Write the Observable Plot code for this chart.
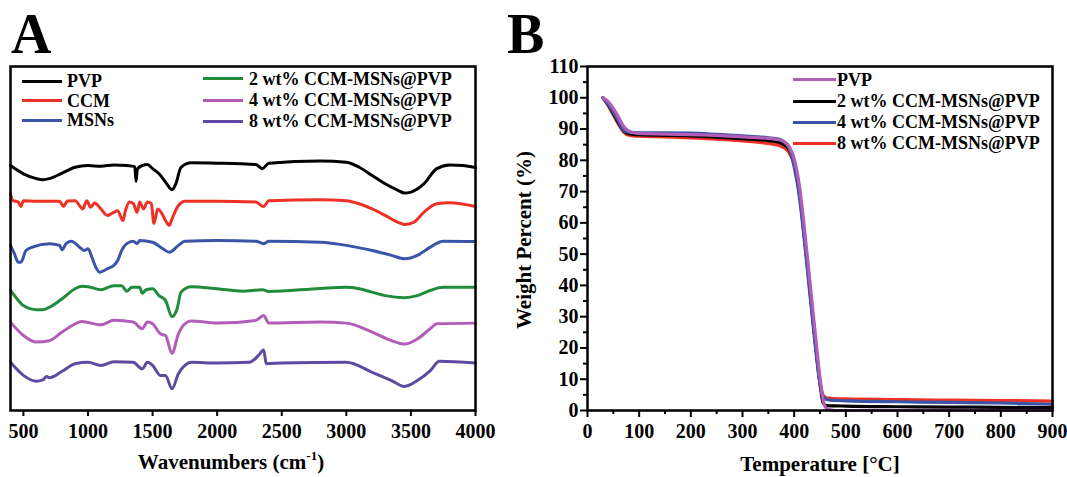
<!DOCTYPE html>
<html><head><meta charset="utf-8">
<script src="https://cdn.jsdelivr.net/npm/d3@7"></script>
<script src="https://cdn.jsdelivr.net/npm/@observablehq/plot@0.6"></script>
<style>
body{margin:0;background:#fff;}
#fig{position:relative;width:1067px;height:477px;font-family:"Liberation Serif","Times New Roman",serif;font-weight:bold;color:#000;overflow:hidden;background:#fff}
.t{position:absolute;white-space:nowrap;}
.sw{position:absolute;height:3px;}
.pl{position:absolute;top:0;}
sup{font-size:13px;line-height:0;vertical-align:9px;}
</style></head><body><div id="fig"></div>
<script>
// ---------------- DATA: FTIR (panel A) ----------------
const ftirNames = ["PVP","CCM","MSNs","2 wt% CCM-MSNs@PVP","4 wt% CCM-MSNs@PVP","8 wt% CCM-MSNs@PVP"];
const ftirXTicks = [500,1000,1500,2000,2500,3000,3500,4000];
// [wavenumber (cm-1), transmittance (a.u., offset)]
const ftirPVP = [[400,71.2],[500,68.8],[600,67.4],[650,67.1],[700,67.4],[800,69.0],[900,70.7],[1000,71.2],[1100,71.0],[1200,71.4],[1300,71.2],[1362,70.9],[1372,66.6],[1382,70.2],[1420,71.2],[1460,71.5],[1500,70.3],[1550,68.8],[1600,66.4],[1650,64.2],[1680,65.9],[1720,70.7],[1800,72.0],[2000,71.9],[2300,71.5],[2350,70.3],[2400,71.9],[2800,72.5],[3000,72.2],[3100,70.7],[3200,68.3],[3300,65.9],[3400,64.0],[3450,63.2],[3500,63.5],[3600,65.9],[3700,70.3],[3800,71.4],[3900,71.2],[4000,70.6]];
const ftirCCM = [[400,63.0],[420,61.0],[460,60.6],[480,59.3],[500,61.0],[600,60.8],[700,60.8],[780,60.8],[810,59.3],[840,60.9],[900,61.0],[960,58.6],[990,61.0],[1020,59.1],[1050,60.3],[1100,58.6],[1150,56.7],[1180,57.2],[1200,57.6],[1230,58.1],[1270,55.2],[1290,58.1],[1320,60.6],[1350,60.2],[1380,57.6],[1400,60.6],[1430,58.6],[1460,60.6],[1490,60.2],[1510,54.4],[1540,58.6],[1580,56.7],[1600,55.2],[1630,53.8],[1650,55.7],[1700,59.6],[1750,60.8],[2000,60.8],[2300,60.6],[2360,59.3],[2400,61.0],[2800,61.3],[3000,61.0],[3100,60.1],[3200,58.6],[3300,56.7],[3400,54.7],[3450,54.1],[3520,54.7],[3600,57.6],[3700,60.1],[3800,60.4],[4000,59.3]];
const ftirMSNs = [[400,48.0],[430,45.6],[460,43.1],[480,43.1],[520,46.5],[570,47.5],[700,48.5],[780,48.0],[800,46.7],[830,48.5],[870,49.2],[950,47.0],[970,46.5],[1000,47.0],[1030,44.6],[1060,41.7],[1090,40.2],[1150,41.2],[1200,42.2],[1230,43.6],[1260,46.5],[1300,48.5],[1350,49.2],[1380,48.5],[1400,49.4],[1500,48.9],[1580,47.0],[1630,46.0],[1700,48.0],[1750,49.2],[2000,49.4],[2300,49.2],[2360,48.5],[2400,49.2],[2800,48.9],[3000,48.0],[3200,46.5],[3350,45.1],[3450,44.1],[3550,45.1],[3650,47.5],[3750,49.2],[4000,49.1]];
const ftir2wt = [[400,34.9],[450,32.5],[500,30.5],[600,29.3],[650,29.3],[700,30.0],[800,32.5],[900,35.4],[950,36.1],[1000,36.0],[1100,35.1],[1200,36.3],[1260,36.3],[1300,34.7],[1340,35.8],[1400,35.8],[1420,34.1],[1450,35.1],[1500,35.4],[1550,33.4],[1600,32.0],[1650,27.3],[1690,29.6],[1720,34.4],[1800,36.0],[2000,35.4],[2200,34.7],[2350,35.1],[2400,34.6],[2800,35.5],[3000,35.8],[3100,35.4],[3200,34.4],[3300,33.4],[3450,32.8],[3550,33.4],[3650,34.9],[3750,35.8],[4000,35.8]];
const ftir4wt = [[400,25.7],[500,21.8],[600,19.9],[700,20.3],[800,22.8],[900,25.2],[950,25.9],[1100,24.9],[1200,26.2],[1350,25.7],[1420,23.8],[1460,25.7],[1500,25.2],[1560,22.3],[1600,21.8],[1650,16.6],[1700,22.3],[1750,25.2],[1800,26.0],[2000,25.4],[2300,26.2],[2360,27.6],[2400,25.4],[2800,25.7],[3000,25.4],[3200,22.8],[3350,20.3],[3450,19.3],[3550,20.8],[3650,23.8],[3700,25.2],[4000,25.4]];
const ftir8wt = [[400,14.0],[500,10.2],[600,8.5],[650,8.9],[680,9.9],[700,9.5],[800,11.4],[900,13.6],[1000,14.0],[1100,13.1],[1200,14.2],[1350,14.0],[1420,12.1],[1460,14.0],[1500,13.1],[1560,10.2],[1600,10.2],[1650,6.3],[1700,10.7],[1750,13.1],[1800,14.0],[2000,13.8],[2250,14.0],[2320,16.0],[2360,17.6],[2380,13.6],[2500,13.8],[3000,14.0],[3200,11.1],[3350,8.7],[3450,7.0],[3550,8.7],[3650,11.6],[3720,14.3],[4000,13.8]];

// ---------------- DATA: TGA (panel B) ----------------
const tgaNames = ["PVP","2 wt% CCM-MSNs@PVP","4 wt% CCM-MSNs@PVP","8 wt% CCM-MSNs@PVP"];
const tgaXTicks = [0,100,200,300,400,500,600,700,800,900];
const tgaXMinor = [50,150,250,350,450,550,650,750,850];
const tgaYTicks = [0,10,20,30,40,50,60,70,80,90,100,110];
const tgaYMinor = [5,15,25,35,45,55,65,75,85,95,105];
const tgaTemp = [30,40,50,60,70,80,90,100,150,200,250,300,350,370,380,390,400,410,420,430,440,450,456,462,470,480,500,600,700,800,900];
const tgaPVP  = [100,98.8,96.6,93.8,90.8,89.3,88.8,88.6,88.4,88.2,88.0,87.5,87.0,86.6,86.0,84.5,80.5,72,58,42,26,10.5,3.5,0.8,0.2,0,0,0,0,0,0];
const tga2wt  = [100,97.8,95.0,92.0,89.5,88.5,88.3,88.2,88.0,87.8,87.4,86.9,86.3,85.8,85.0,83.5,79,70,55.5,39.5,23.5,8.5,2.5,1.6,1.5,1.5,1.4,1.2,1.1,1.0,0.9];
const tga4wt  = [100,97.8,95.4,92.5,89.6,89.0,88.9,88.8,88.8,88.7,88.3,87.8,87.2,86.8,86.0,84.0,78,68.5,54,38,22,8.5,4.5,3.6,3.3,3.2,3.1,2.8,2.6,2.4,2.0];
const tga8wt  = [100,97.5,94.5,91.5,89.0,88.0,87.8,87.7,87.5,87.2,86.8,86.2,85.4,84.8,84.0,82.5,78.5,69.5,55,39,23,9,4.9,4.1,3.9,3.8,3.7,3.5,3.3,3.2,3.0];

// ---------------- styles ----------------
const ftirColors = ["#000000","#ee3124","#3a55a8","#1f8c3b","#b25db7","#5e4aa0"];
const tgaColors  = ["#b25db7","#000000","#3a55a8","#ee3124"];
const FONT = '"Liberation Serif","Times New Roman",serif';

// ---------------- build rows ----------------
const ftirSets = [ftirPVP, ftirCCM, ftirMSNs, ftir2wt, ftir4wt, ftir8wt];
const ftirRows = ftirSets.flatMap((arr, i) => arr.map(([wn, t]) => ({series: ftirNames[i], wn, t})));
const tgaSets = [tgaPVP, tga2wt, tga4wt, tga8wt];
const drawOrder = [3, 1, 2, 0];
const tgaRows = drawOrder.flatMap(i => tgaTemp.map((T, k) => ({series: tgaNames[i], T, w: tgaSets[i][k]})));

const fig = document.getElementById("fig");
const baseStyle = {fontFamily: FONT, fontWeight: "bold", color: "#000", background: "transparent", overflow: "visible"};

// Panel A
const plotA = Plot.plot({
  width: 500, height: 477,
  marginLeft: 10, marginRight: 25, marginTop: 66, marginBottom: 67,
  style: {...baseStyle, fontSize: "20px"},
  x: {domain: [400, 4000]},
  y: {domain: [0, 100], axis: null},
  color: {domain: ftirNames, range: ftirColors},
  marks: [
    Plot.line(ftirRows, {x: "wn", y: "t", z: "series", stroke: "series", strokeWidth: 3, curve: "monotone-x"}),
    Plot.axisX({ticks: ftirXTicks, tickSize: 6, tickPadding: 7, strokeWidth: 2, tickFormat: d => String(d), label: null, fontSize: 20}),
    Plot.frame({strokeWidth: 2.5})
  ]
});
const wrapA = document.createElement("div"); wrapA.className = "pl"; wrapA.style.left = "0px";
wrapA.appendChild(plotA); fig.appendChild(wrapA);

// Panel B
const plotB = Plot.plot({
  width: 567, height: 477,
  marginLeft: 87, marginRight: 15, marginTop: 66, marginBottom: 67,
  style: {...baseStyle, fontSize: "20px"},
  x: {domain: [0, 900]},
  y: {domain: [0, 110]},
  color: {domain: tgaNames, range: tgaColors},
  marks: [
    Plot.line(tgaRows, {x: "T", y: "w", z: "series", stroke: "series", strokeWidth: 3.2, curve: "monotone-x"}),
    Plot.axisX({ticks: tgaXTicks, tickSize: 7, tickPadding: 6, strokeWidth: 2, tickFormat: d => String(d), label: null, fontSize: 20}),
    Plot.axisX({ticks: tgaXMinor, tickSize: 4, strokeWidth: 2, text: null, label: null}),
    Plot.axisY({ticks: tgaYTicks, tickSize: 7, tickPadding: 2, strokeWidth: 2, tickFormat: d => String(d), label: null, fontSize: 20}),
    Plot.axisY({ticks: tgaYMinor, tickSize: 4, strokeWidth: 2, text: null, label: null}),
    Plot.frame({strokeWidth: 2.5})
  ]
});
const wrapB = document.createElement("div"); wrapB.className = "pl"; wrapB.style.left = "500px";
wrapB.appendChild(plotB); fig.appendChild(wrapB);

// ---------------- HTML text helpers ----------------
function txt(html, x, baseline, size, anchor = "start") {
  const d = document.createElement("div");
  d.className = "t";
  d.innerHTML = html;
  d.style.fontSize = size + "px";
  d.style.lineHeight = size + "px";
  d.style.left = x + "px";
  d.style.top = (baseline - 0.8375 * size) + "px";
  if (anchor === "middle") d.style.transform = "translateX(-50%)";
  fig.appendChild(d);
  return d;
}
function swatch(color, x, yc, w) {
  const d = document.createElement("div");
  d.className = "sw";
  d.style.background = color;
  d.style.left = x + "px";
  d.style.top = (yc - 1.5) + "px";
  d.style.width = w + "px";
  fig.appendChild(d);
}

// panel letters
txt("A", 11, 53, 56);
txt("B", 507, 53, 56);

// axis titles
txt("Wavenumbers (cm<sup>-1</sup>)", 231, 470, 21, "middle");
txt("Temperature [°C]", 820, 472, 21, "middle");
{
  const d = document.createElement("div");
  d.className = "t";
  d.textContent = "Weight Percent (%)";
  d.style.fontSize = "21px"; d.style.lineHeight = "21px";
  d.style.left = "524px"; d.style.top = "240px";
  d.style.transform = "translate(-50%,-50%) rotate(-90deg)";
  fig.appendChild(d);
}

// legend A
const legA = [
  {i: 0, x: 22, y: 81, w: 40, tx: 67},
  {i: 1, x: 22, y: 100.5, w: 40, tx: 67},
  {i: 2, x: 22, y: 120, w: 40, tx: 67},
  {i: 3, x: 203, y: 78.5, w: 40, tx: 249},
  {i: 4, x: 203, y: 100, w: 40, tx: 249},
  {i: 5, x: 203, y: 121, w: 40, tx: 249}
];
legA.forEach(l => { swatch(ftirColors[l.i], l.x, l.y, l.w); txt(ftirNames[l.i], l.tx, l.y + 6.3, 18); });

// legend B
const legBy = [79.5, 101, 122, 143];
tgaNames.forEach((n, i) => { swatch(tgaColors[i], 793, legBy[i], 43); txt(n, 837, legBy[i] + 6.3, 18); });
</script></body></html>
